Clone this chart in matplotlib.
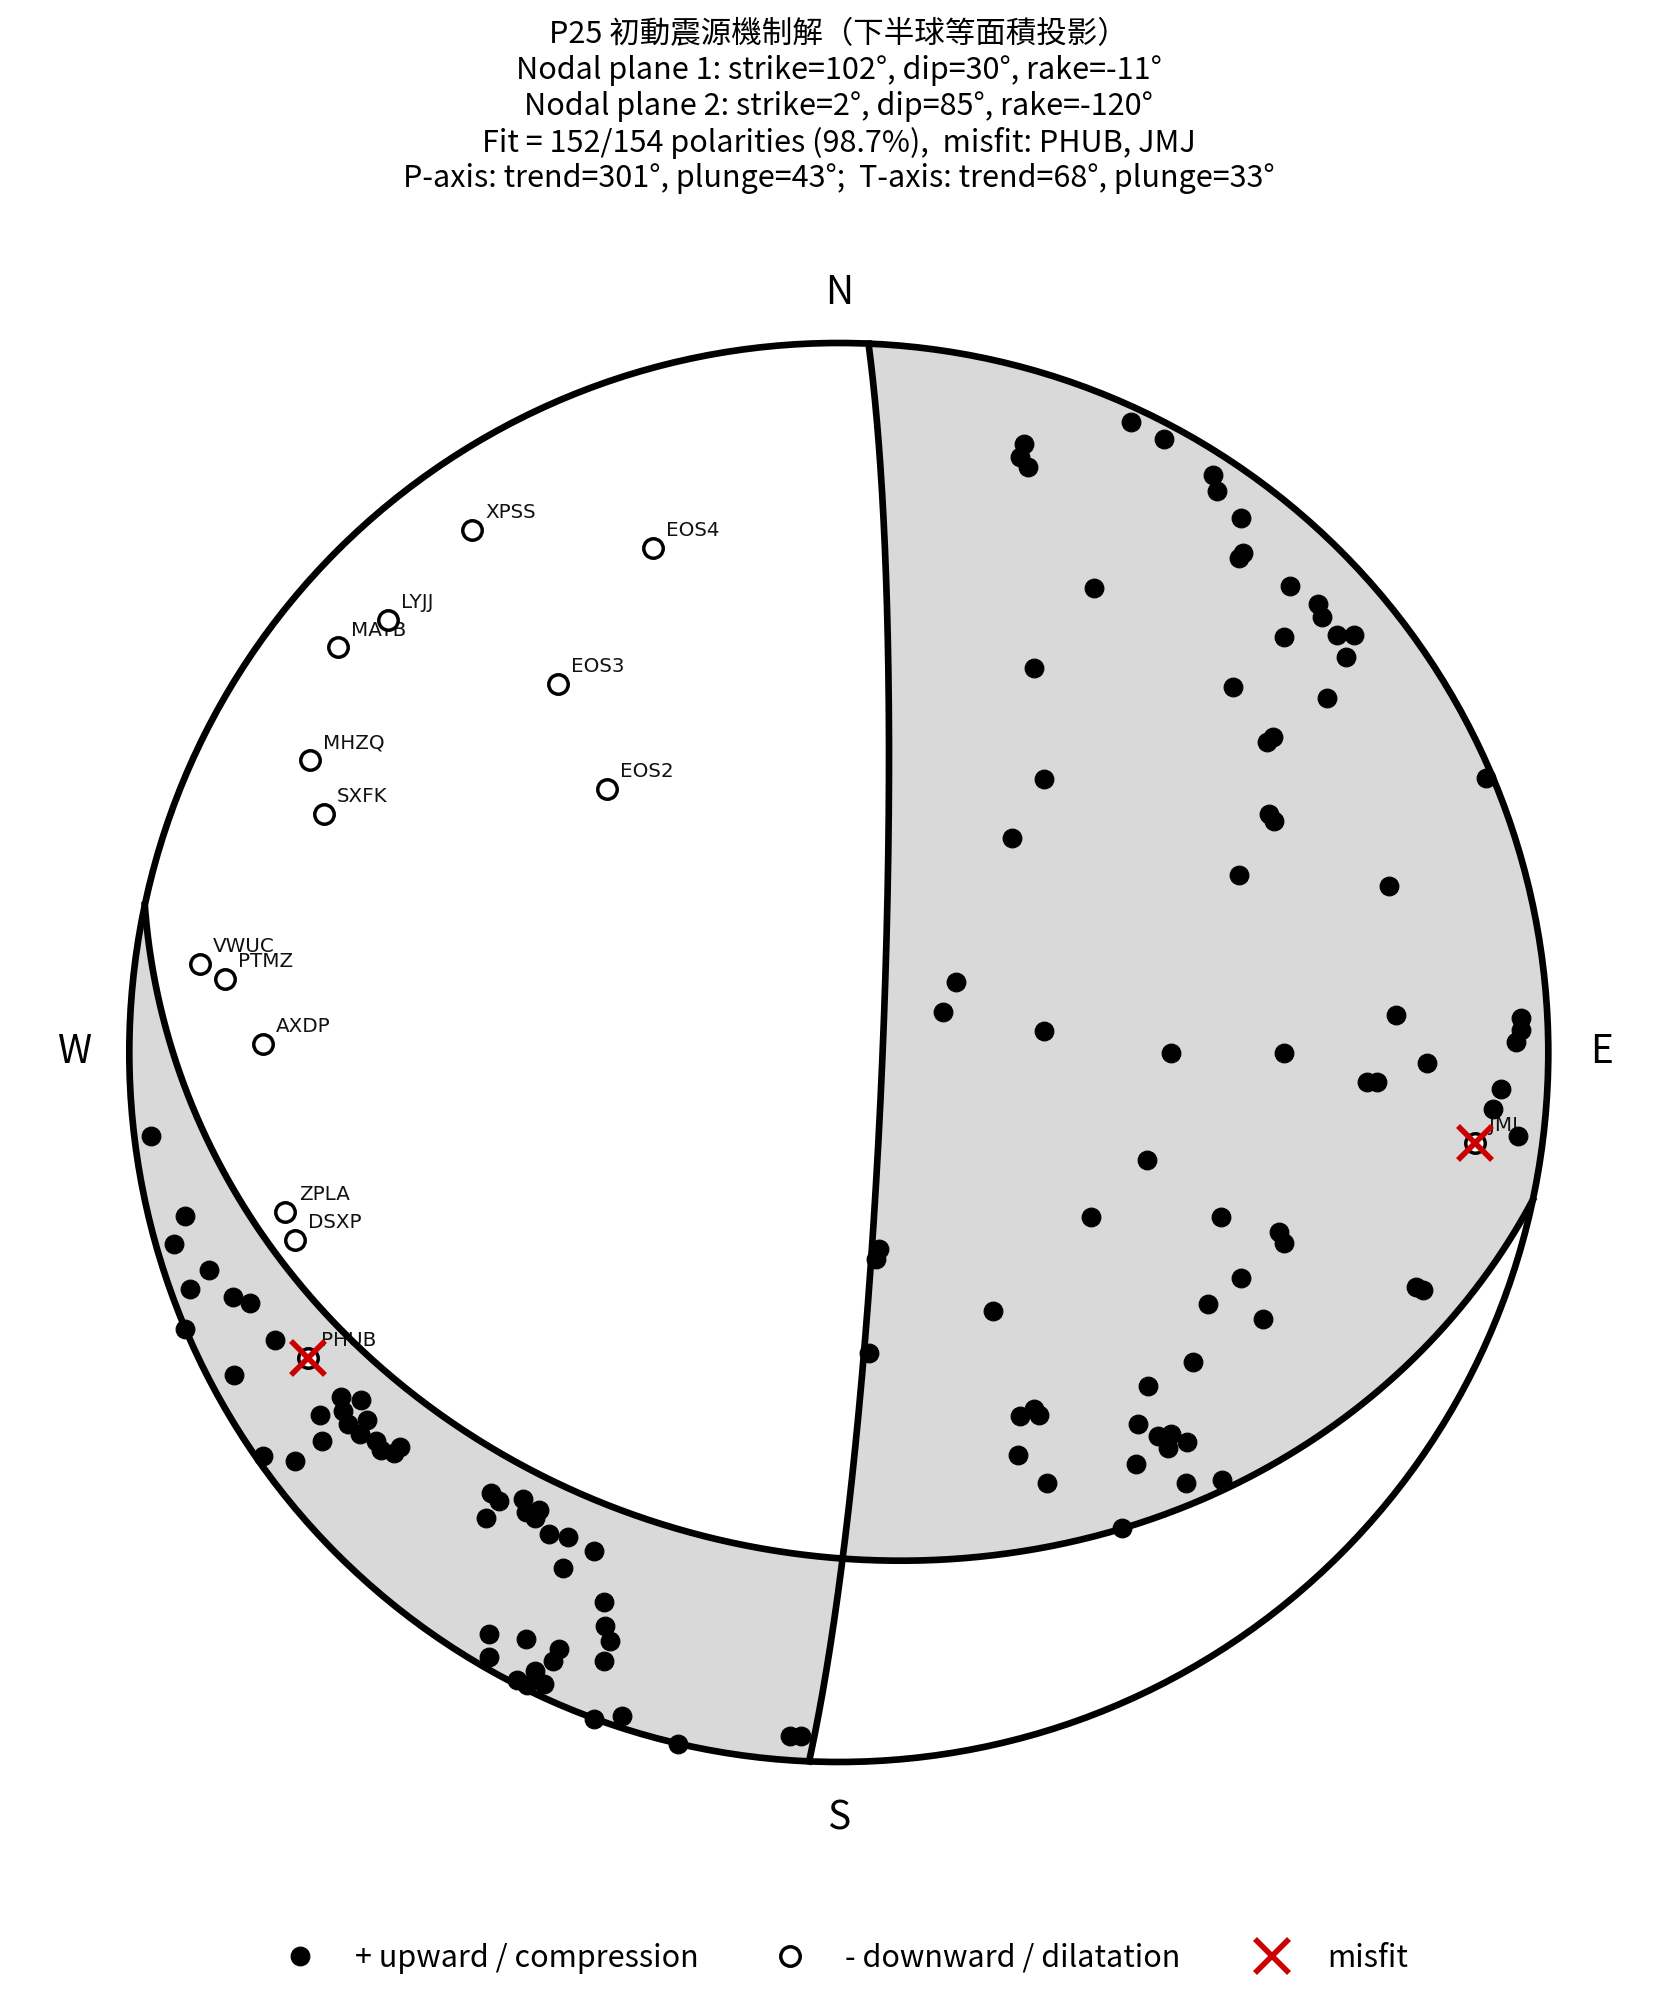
import numpy as np
import matplotlib
matplotlib.use("Agg")
import matplotlib.pyplot as plt
from matplotlib.patches import Circle
from matplotlib.lines import Line2D

plt.rcParams['font.family'] = ['Noto Sans CJK TC', 'DejaVu Sans']

# fault plane solution
event = "P25"
strike = [102, 2.4]
dip = [30, 85]
rake = [-11, -120]
p_axis = (301, 43)   # trend, plunge
t_axis = (68, 33)
n_fit, n_total = 152, 154
misfits = ["PHUB", "JMJ"]

# "+" polarities, projected position on the lower-hemisphere equal-area net (east, north)
up_e = [0.412, 0.459, 0.261, 0.255, 0.266, 0.528, 0.533, 0.567, 0.569, 0.564,
        0.360, 0.636, 0.675, 0.681, 0.702, 0.726, 0.627, 0.715, 0.275, 0.555,
        0.688, 0.612, 0.603, 0.289, 0.912, 0.607, 0.614, 0.244, 0.564, 0.775,
        0.165, 0.147, 0.785, 0.962, 0.962, 0.955, 0.289, 0.468, 0.628, 0.829,
        0.744, 0.758, 0.933, 0.922, 0.957,
        0.434, 0.356, 0.538, 0.621, 0.628, 0.567, 0.520, 0.598, 0.814, 0.823,
        0.217, 0.499, 0.436, 0.255, 0.275, 0.282, 0.252, 0.293, 0.421, 0.450,
        0.468, 0.464, 0.491, 0.419, 0.490, 0.540, 0.399,
        0.057, 0.053, 0.042,
        -0.969, -0.921, -0.937, -0.888, -0.915, -0.854, -0.830, -0.921, -0.794, -0.852,
        -0.701, -0.674, -0.731, -0.699, -0.665, -0.692, -0.675, -0.652, -0.645, -0.627,
        -0.618, -0.728, -0.812, -0.766, -0.490, -0.479, -0.497, -0.445, -0.423, -0.441,
        -0.428, -0.408, -0.381, -0.345, -0.389, -0.331, -0.329, -0.322, -0.331, -0.493,
        -0.441, -0.394, -0.403, -0.493, -0.454, -0.428, -0.416, -0.439, -0.345, -0.306,
        -0.226, -0.069, -0.053]
up_n = [0.888, 0.865, 0.858, 0.839, 0.825, 0.814, 0.791, 0.753, 0.704, 0.697,
        0.654, 0.657, 0.632, 0.614, 0.589, 0.589, 0.585, 0.558, 0.542, 0.515,
        0.499, 0.445, 0.437, 0.385, 0.387, 0.336, 0.326, 0.302, 0.250, 0.235,
        0.100, 0.057, 0.053, 0.048, 0.032, 0.015, 0.030, -0.001, -0.001, -0.015,
        -0.041, -0.041, -0.051, -0.080, -0.118,
        -0.151, -0.232, -0.232, -0.253, -0.268, -0.318, -0.354, -0.376, -0.331, -0.335,
        -0.365, -0.436, -0.470, -0.513, -0.502, -0.511, -0.567, -0.607, -0.524, -0.540,
        -0.538, -0.558, -0.549, -0.580, -0.607, -0.603, -0.670,
        -0.277, -0.291, -0.423,
        -0.118, -0.230, -0.270, -0.306, -0.333, -0.345, -0.353, -0.390, -0.405, -0.454,
        -0.486, -0.490, -0.511, -0.506, -0.518, -0.524, -0.538, -0.547, -0.560, -0.565,
        -0.556, -0.547, -0.569, -0.576, -0.621, -0.632, -0.656, -0.630, -0.645, -0.648,
        -0.656, -0.679, -0.683, -0.702, -0.726, -0.775, -0.809, -0.830, -0.858, -0.820,
        -0.827, -0.841, -0.858, -0.852, -0.885, -0.872, -0.890, -0.892, -0.940, -0.935,
        -0.975, -0.964, -0.964]

# "-" polarities (labelled stations)
down_names = ["XPSS", "EOS4", "LYJJ", "MAYB", "EOS3", "MHZQ", "EOS2", "SXFK",
              "VWUC", "PTMZ", "AXDP", "ZPLA", "DSXP", "PHUB", "JMJ"]
down_e = [-0.517, -0.262, -0.636, -0.706, -0.396, -0.746, -0.327, -0.726,
          -0.901, -0.865, -0.812, -0.780, -0.767, -0.748, 0.897]
down_n = [0.737, 0.711, 0.610, 0.571, 0.520, 0.412, 0.372, 0.336,
          0.125, 0.104, 0.012, -0.225, -0.264, -0.430, -0.127]


def line_vec(trend, plunge):
    t, p = np.radians(trend), np.radians(plunge)
    return np.array([np.cos(p) * np.cos(t), np.cos(p) * np.sin(t), np.sin(p)])


def plane_normal(s, d):
    s, d = np.radians(s), np.radians(d)
    return np.array([-np.sin(d) * np.sin(s), np.sin(d) * np.cos(s), -np.cos(d)])


def project(v):
    # lower hemisphere, equal area (Schmidt): r = sqrt(1 - down)
    n, e, d = v
    r = np.sqrt(np.clip(1 - d, 0, None))
    h = np.hypot(n, e)
    h = np.where(h == 0, 1, h)
    return r * e / h, r * n / h


fig = plt.figure(figsize=(16.75, 20.07), dpi=100)
ax = fig.add_axes([0.00096, 0.05845, 0.99964, 0.83428])
ax.set_xlim(-1.18, 1.18)
ax.set_ylim(-1.18, 1.18)
ax.axis('off')

# compressional quadrants from the sign of the double-couple radiation
g = np.linspace(-1.03, 1.03, 1400)
X, Y = np.meshgrid(g, g)
r_act = np.maximum(np.hypot(X, Y), 1e-9)
R = np.minimum(r_act, 1.0)
down = 1 - R ** 2
hor = np.sqrt(1 - down ** 2)
V = np.array([hor * Y / r_act, hor * X / r_act, down])
n1 = plane_normal(strike[0], dip[0])
n2 = plane_normal(strike[1], dip[1])
F = np.tensordot(n1, V, 1) * np.tensordot(n2, V, 1)
T = line_vec(*t_axis)
F = F * np.sign((n1 @ T) * (n2 @ T))
cs = ax.contourf(X, Y, F, levels=[0, F.max() + 1], colors=['#d9d9d9'], zorder=1)
clip = Circle((0, 0), 1, transform=ax.transData)
cs.set_clip_path(clip)

# nodal planes
th = np.linspace(0, np.pi, 500)
for s, d in zip(strike, dip):
    sr, dr = np.radians(s), np.radians(d)
    sv = np.array([np.cos(sr), np.sin(sr), 0.0])
    dv = np.array([np.cos(dr) * np.cos(sr + np.pi / 2), np.cos(dr) * np.sin(sr + np.pi / 2), np.sin(dr)])
    v = np.outer(sv, np.cos(th)) + np.outer(dv, np.sin(th))
    px, py = project(v)
    ax.plot(px, py, color='black', lw=4.8, zorder=3)

ax.add_patch(Circle((0, 0), 1, fill=False, lw=4.8, color='black', zorder=3))

# polarities
ax.plot(up_e, up_n, 'o', ls='none', mfc='black', mec='black', ms=13.5, mew=0.8, zorder=4)
ax.plot(down_e, down_n, 'o', ls='none', mfc='white', mec='black', ms=14, mew=2.5, zorder=4)
for name, x, y in zip(down_names, down_e, down_n):
    ax.annotate(name, (x, y), xytext=(9.6, 8.4), textcoords='offset points',
                fontsize=14.3, family='DejaVu Sans', color='#111111', va='baseline', zorder=2)
    if name in misfits:
        ax.plot(x, y, 'x', color='#cc0000', ms=24, mew=4, zorder=5)

for lab, x, y in [('N', 0, 1.07), ('S', 0, -1.08), ('E', 1.075, 0), ('W', -1.077, 0)]:
    ax.text(x, y, lab, ha='center', va='center', fontsize=28)

title = (f"{event} 初動震源機制解（下半球等面積投影）\n"
         f"Nodal plane 1: strike={strike[0]:.0f}°, dip={dip[0]}°, rake={rake[0]}°\n"
         f"Nodal plane 2: strike={strike[1]:.0f}°, dip={dip[1]}°, rake={rake[1]}°\n"
         f"Fit = {n_fit}/{n_total} polarities ({100 * n_fit / n_total:.1f}%),  misfit: {', '.join(misfits)}\n"
         f"P-axis: trend={p_axis[0]}°, plunge={p_axis[1]}°;  T-axis: trend={t_axis[0]}°, plunge={t_axis[1]}°")
fig.text(0.5008, 0.9905, title, ha='center', va='top', fontsize=22)

handles = [Line2D([], [], marker='o', ls='none', mfc='black', mec='black', ms=13.5, mew=0.8),
           Line2D([], [], marker='o', ls='none', mfc='white', mec='black', ms=14, mew=2.5),
           Line2D([], [], marker='x', ls='none', color='#cc0000', ms=24, mew=4)]
labels = ['+ upward / compression', '- downward / dilatation', 'misfit']
fig.legend(handles, labels, loc='center', bbox_to_anchor=(0.5008, 0.0242), ncol=3,
           frameon=False, fontsize=22)

fig.savefig("out.png", dpi=100)
